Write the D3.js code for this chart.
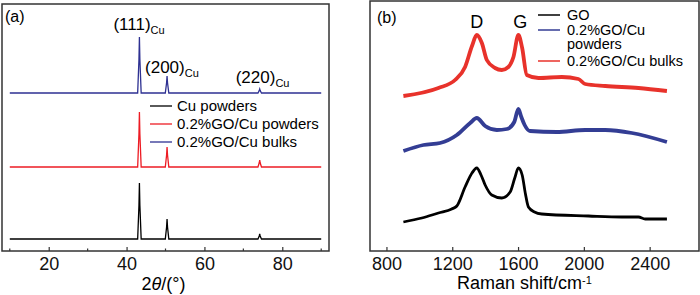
<!DOCTYPE html>
<html>
<head>
<meta charset="utf-8">
<script src="https://cdn.jsdelivr.net/npm/d3@7"></script>
<style>
  body { margin: 0; background: #fff; }
  svg { display: block; font-family: Arial, "Liberation Sans", sans-serif; }
</style>
</head>
<body>
<div id="wrapper"></div>
<script>
// ---- data ----
// (a) XRD
const xrdSeries = ["Cu powders", "0.2%GO/Cu powders", "0.2%GO/Cu bulks"]
const xrdColors = ["#000000", "#ed1c24", "#2e3192"]
const xrdPeaks = [43.3, 50.4, 74.2]
const xrdPeakLabels = ["(111)", "(200)", "(220)"]
const xrdBaselines = [12, 84, 158]
const xrdCu = [56, 20, 5]
const xrdGoPowders = [55, 20, 7]
const xrdGoBulks = [56, 17, 4]
const xrdTicks = [20, 40, 60, 80]
const xrdMinorTicks = [10, 30, 50, 70, 90]

// (b) Raman, [shift cm-1, intensity a.u.]
const ramanSeries = ["GO", "0.2%GO/Cu powders", "0.2%GO/Cu bulks"]
const ramanColors = ["#000000", "#333d94", "#e8322b"]
const ramanGO = [
  [903, 29], [1015, 33], [1116, 38], [1197, 42], [1228, 45], [1278, 64],
  [1320, 78], [1349, 83], [1375, 76], [1400, 66], [1440, 56], [1501, 53],
  [1552, 59], [1580, 73], [1602, 83], [1625, 76], [1645, 57], [1663, 44],
  [1700, 39], [1744, 37], [2028, 35], [2231, 34], [2332, 34], [2373, 32], [2505, 32]
]
const ramanPowders = [
  [903, 100], [1025, 106], [1126, 108], [1228, 116], [1309, 128], [1349, 133],
  [1400, 125], [1471, 121], [1532, 122], [1577, 129], [1602, 142], [1620, 134],
  [1640, 126], [1673, 120], [1835, 119], [2008, 121], [2130, 121], [2292, 118], [2505, 109]
]
const ramanBulks = [
  [903, 155], [1116, 163], [1217, 171], [1278, 184], [1320, 205], [1349, 216],
  [1380, 208], [1410, 191], [1460, 183], [1501, 181], [1541, 184], [1572, 194],
  [1602, 216], [1625, 203], [1653, 176], [1724, 173], [1866, 174], [1967, 172],
  [2008, 167], [2130, 165], [2332, 163], [2505, 160]
]
const ramanTicks = [800, 1200, 1600, 2000, 2400]

function drawCharts() {
  const width = 700
  const height = 295

  const svg = d3.select("#wrapper")
    .append("svg")
      .attr("width", width)
      .attr("height", height)

  const frameColor = "#333333"

  // ================= panel (a) =================
  const a = { left: 2, top: 4, right: 329, bottom: 251 }

  const xA = d3.scaleLinear().domain([8, 92]).range([a.left, a.right])
  const yA = d3.scaleLinear().domain([0, 247]).range([a.bottom, a.top])

  const gA = svg.append("g")

  // build XRD traces from the peak list
  const xrdIntensities = [xrdCu, xrdGoPowders, xrdGoBulks]
  const xrdData = xrdIntensities.map((ints, i) => {
    const base = xrdBaselines[i]
    const pts = [[10, base]]
    xrdPeaks.forEach((p, j) => {
      pts.push([p - 0.45, base], [p - 0.12, base + ints[j] * 0.6], [p, base + ints[j]],
               [p + 0.12, base + ints[j] * 0.6], [p + 0.45, base])
    })
    pts.push([90, base])
    return pts
  })

  const lineA = d3.line()
    .x(d => xA(d[0]))
    .y(d => yA(d[1]))

  gA.selectAll(".xrd")
    .data(xrdData)
    .enter().append("path")
      .attr("class", "xrd")
      .attr("d", lineA)
      .attr("fill", "none")
      .attr("stroke", (d, i) => xrdColors[i])
      .attr("stroke-width", 1.3)

  // axis a
  const xAxisA = d3.axisBottom(xA)
    .tickValues(xrdTicks)
    .tickFormat(d3.format("d"))
    .tickSizeInner(-4)
    .tickSizeOuter(0)
    .tickPadding(6)
  const axA = gA.append("g")
    .attr("transform", `translate(0,${a.bottom})`)
    .call(xAxisA)
  axA.select(".domain").remove()
  axA.selectAll(".tick line").attr("stroke", frameColor).attr("stroke-width", 1.2)
  axA.selectAll(".tick text")
    .attr("font-size", 18)
    .attr("font-family", "Arial, 'Liberation Sans', sans-serif")
    .attr("fill", "#111")

  gA.selectAll(".minor")
    .data(xrdMinorTicks)
    .enter().append("line")
      .attr("x1", d => xA(d)).attr("x2", d => xA(d))
      .attr("y1", a.bottom).attr("y2", a.bottom - 2.5)
      .attr("stroke", frameColor)
      .attr("stroke-width", 1.2)

  gA.append("rect")
    .attr("x", a.left).attr("y", a.top)
    .attr("width", a.right - a.left).attr("height", a.bottom - a.top)
    .attr("fill", "none")
    .attr("stroke", frameColor)
    .attr("stroke-width", 1.5)

  gA.append("text")
    .attr("x", 5).attr("y", 22)
    .attr("font-size", 16)
    .text("(a)")

  // peak labels above the top trace
  const labelDx = [-26, -22, -24]
  const labelY = [30, 73, 83]
  xrdPeakLabels.forEach((lab, j) => {
    const t = gA.append("text")
      .attr("x", xA(xrdPeaks[j]) + labelDx[j])
      .attr("y", labelY[j])
      .attr("font-size", 17)
    t.append("tspan").text(lab)
    t.append("tspan")
      .attr("font-size", 11)
      .attr("dy", 4)
      .text("Cu")
  })

  // legend a
  const legA = gA.append("g").attr("transform", "translate(150,106)")
  xrdSeries.forEach((name, i) => {
    legA.append("line")
      .attr("x1", 0).attr("x2", 22)
      .attr("y1", i * 18).attr("y2", i * 18)
      .attr("stroke", xrdColors[i])
      .attr("stroke-width", 1.3)
    legA.append("text")
      .attr("x", 27).attr("y", i * 18 + 5)
      .attr("font-size", 15)
      .text(name)
  })

  gA.append("text")
    .attr("x", (a.left + a.right) / 2 - 2)
    .attr("y", 290)
    .attr("text-anchor", "middle")
    .attr("font-size", 18)
    .call(t => {
      t.append("tspan").text("2")
      t.append("tspan").attr("font-style", "italic").text("θ")
      t.append("tspan").text("/(°)")
    })

  // ================= panel (b) =================
  const b = { left: 370, top: 1, right: 699, bottom: 251 }

  const xB = d3.scaleLinear().domain([700, 2700]).range([b.left, b.right])
  const yB = d3.scaleLinear().domain([0, 250]).range([b.bottom, b.top])

  const gB = svg.append("g")

  const lineB = d3.line()
    .x(d => xB(d[0]))
    .y(d => yB(d[1]))
    .curve(d3.curveMonotoneX)

  const ramanData = [ramanGO, ramanPowders, ramanBulks]
  gB.selectAll(".raman")
    .data(ramanData)
    .enter().append("path")
      .attr("class", "raman")
      .attr("d", lineB)
      .attr("fill", "none")
      .attr("stroke", (d, i) => ramanColors[i])
      .attr("stroke-width", (d, i) => i === 0 ? 2.8 : 3.8)
      .attr("stroke-linejoin", "round")

  const xAxisB = d3.axisBottom(xB)
    .tickValues(ramanTicks)
    .tickFormat(d3.format("d"))
    .tickSizeInner(-4)
    .tickSizeOuter(0)
    .tickPadding(6)
  const axB = gB.append("g")
    .attr("transform", `translate(0,${b.bottom})`)
    .call(xAxisB)
  axB.select(".domain").remove()
  axB.selectAll(".tick line").attr("stroke", frameColor).attr("stroke-width", 1.2)
  axB.selectAll(".tick text")
    .attr("font-size", 18)
    .attr("font-family", "Arial, 'Liberation Sans', sans-serif")
    .attr("fill", "#111")

  gB.append("rect")
    .attr("x", b.left).attr("y", b.top)
    .attr("width", b.right - b.left).attr("height", b.bottom - b.top)
    .attr("fill", "none")
    .attr("stroke", frameColor)
    .attr("stroke-width", 1.5)

  gB.append("text")
    .attr("x", 377).attr("y", 23)
    .attr("font-size", 16)
    .text("(b)")

  gB.append("text")
    .attr("x", xB(1349)).attr("y", 28)
    .attr("text-anchor", "middle")
    .attr("font-size", 18)
    .text("D")
  gB.append("text")
    .attr("x", xB(1602) + 2).attr("y", 28)
    .attr("text-anchor", "middle")
    .attr("font-size", 18)
    .text("G")

  // legend b (second entry wraps)
  const legB = gB.append("g").attr("transform", "translate(538,0)")
  const legRows = [15, 30, 61]
  ramanSeries.forEach((name, i) => {
    legB.append("line")
      .attr("x1", 0).attr("x2", 22)
      .attr("y1", legRows[i]).attr("y2", legRows[i])
      .attr("stroke", ramanColors[i])
      .attr("stroke-width", 1.5)
    const txt = legB.append("text")
      .attr("x", 29).attr("y", legRows[i] + 4.5)
      .attr("font-size", 14.5)
    if (i === 1) {
      txt.append("tspan").text("0.2%GO/Cu")
      txt.append("tspan").attr("x", 29).attr("dy", 14).text("powders")
    } else {
      txt.text(name)
    }
  })

  gB.append("text")
    .attr("x", 457).attr("y", 289)
    .attr("font-size", 18)
    .call(t => {
      t.append("tspan").text("Raman shift/cm")
      t.append("tspan").attr("font-size", 11).attr("dy", -5.5).text("-1")
    })
}
drawCharts()
</script>
</body>
</html>
